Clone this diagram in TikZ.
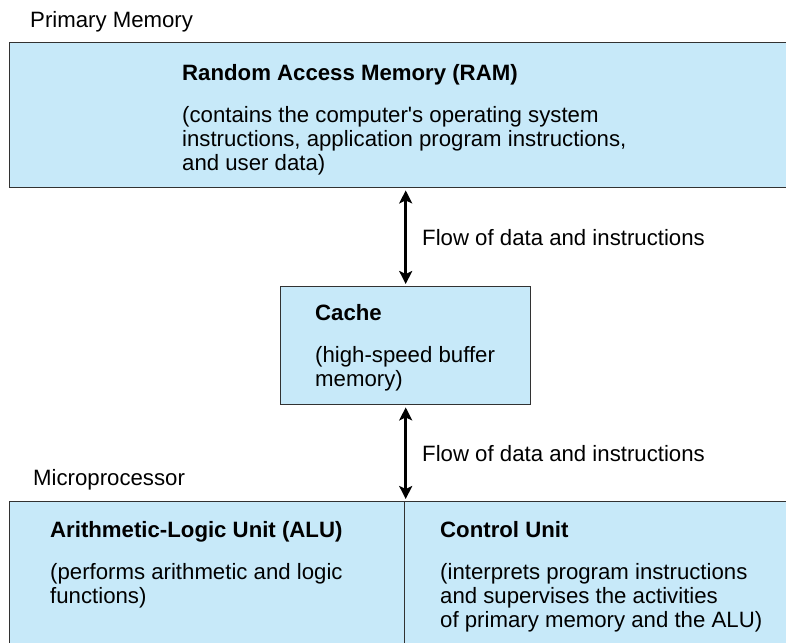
\documentclass[tikz,border=0pt]{standalone}
\usepackage{fontspec}
\setmainfont{Liberation Sans}
\usetikzlibrary{arrows.meta}
\definecolor{boxblue}{RGB}{199,233,249}
\definecolor{edgegray}{RGB}{50,50,50}
\tikzset{
  panel/.style={draw=edgegray, line width=1.4pt, fill=boxblue, rectangle, inner sep=0pt, anchor=north west},
  txt/.style={anchor=base west, inner sep=0pt, align=left, font=\fontsize{22.2}{24}\selectfont},
  ttl/.style={txt, font=\fontsize{22.2}{24}\selectfont\bfseries},
  flow/.style={line width=2.6pt, black, {Stealth[length=13pt,width=13pt,inset=3pt]}-{Stealth[length=13pt,width=13pt,inset=3pt]}, shorten <=2pt, shorten >=2pt}
}
\begin{document}
\begin{tikzpicture}[x=1pt,y=-1pt]
\useasboundingbox (0,0) rectangle (786,642);
% boxes
\node[panel, minimum width=785pt, minimum height=145pt] (ram) at (9,42) {};
\node[panel, minimum width=250pt, minimum height=118pt] (cache) at (280,286) {};
\node[panel, minimum width=395pt, minimum height=150pt] (alu) at (9,501) {};
\node[panel, minimum width=390pt, minimum height=150pt] (cu) at (404,501) {};
% outside labels
\node[txt] (pm) at (30,28) {Primary Memory};
\node[txt] (mp) at (33,485) {Microprocessor};
% RAM (multi-line nodes placed at the baseline of their last line)
\node[ttl] (ramt) at (182,80) {Random Access Memory (RAM)};
\node[txt] (ramd) at (182,170) {(contains the computer\textquotesingle s operating system\\instructions, application program instructions,\\and user data)};
% Cache
\node[ttl] (cachet) at (315,320) {Cache};
\node[txt] (cached) at (315,386) {(high-speed buffer\\memory)};
% ALU
\node[ttl] (alut) at (50,537) {Arithmetic-Logic Unit (ALU)};
\node[txt] (alud) at (50,603) {(performs arithmetic and logic\\functions)};
% CU
\node[ttl] (cut) at (440,537) {Control Unit};
\node[txt] (cud) at (440,627) {(interprets program instructions\\and supervises the activities\\of primary memory and the ALU)};
% arrows
\draw[flow] (cache.north |- ram.south) -- (cache.north);
\draw[flow] (cache.south) -- (cache.south |- cu.north);
\node[txt] (f1) at (422,245) {Flow of data and instructions};
\node[txt] (f2) at (422,461) {Flow of data and instructions};
\end{tikzpicture}
\end{document}
